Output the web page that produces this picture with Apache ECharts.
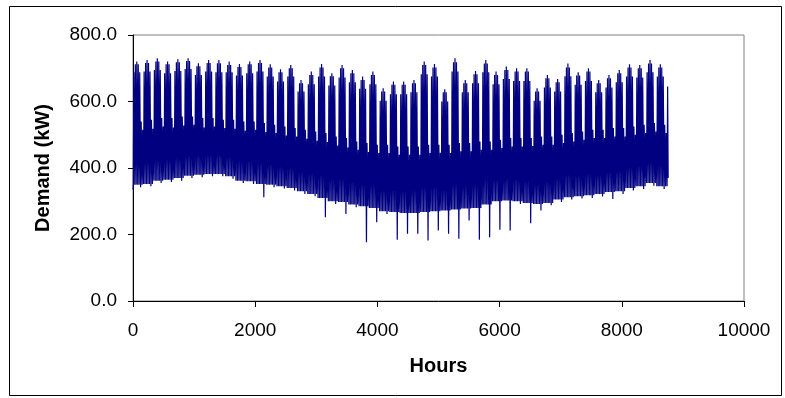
<!DOCTYPE html>
<html>
<head>
<meta charset="utf-8">
<script src="https://cdn.jsdelivr.net/npm/echarts@6/dist/echarts.min.js"></script>
<style>html,body{margin:0;padding:0;background:#fff}#c{width:785px;height:398px}</style>
</head>
<body>
<div id="c"></div>
<script>
// Weekly readings (52 weeks, week starts at hour 168*w), values in kW
// Mid-week (Wednesday) peak
const weekPeak = [720,725,730,720,727,730,715,725,725, 720,713,720,725,712,697,710,665,690, 713,685,710,695,675,690,640,660,660, 665,720,713,637,730,665,692,725, 690,705,700,700,640,680,668,714,688, 700,665,680,695,712,710,725,712];
// Tuesday / Thursday peaks
const weekNear = [712,716,720,712,718,722,706,716,715, 710,704,712,716,702,688,700,655,680, 702,676,700,685,665,680,630,650,650, 655,710,702,628,718,655,682,714, 680,695,690,690,630,670,658,702,678, 690,655,670,685,702,700,714,702];
// Monday / Friday peaks
const weekShoulder = [688,690,695,685,692,698,680,690,688, 688,678,685,690,675,660,675,630,652, 675,648,672,658,638,652,602,622,622, 628,682,675,600,690,628,655,688, 652,668,662,662,602,642,630,676,650, 662,628,642,658,675,672,688,675];
// Night lows
const weekBase = [350,352,362,365,370,377,380,382,382, 375,362,360,352,350,345,340,330,322, 310,300,298,290,285,280,270,268,265, 265,268,270,272,275,278,280,290, 300,302,300,295,292,295,305,312,315, 318,322,328,330,340,345,355,345];
// Saturday / Sunday highs
const weekendHigh = [540,545,550,550,555,555,550,550,545, 545,540,540,535,530,525,520,515,510, 505,495,490,480,475,470,470,465,465, 465,470,470,470,475,475,480,480, 485,490,490,490,495,495,500,505,510, 515,515,520,520,525,530,535,530];
const sundayHigh = [515,518,525,522,528,530,522,525,520, 518,512,515,508,505,498,495,488,482, 478,468,462,455,448,445,445,440,440, 440,445,446,445,450,450,455,455, 460,465,465,466,470,470,475,480,485, 490,490,495,495,500,505,510,505];
// Lowest night of the week (Saturday night)
const weekDip = [342,345,355,358,362,370,372,375,375, 368,355,352,312,342,338,332,322,315, 252,292,262,282,177,237,262,184,202, 202,182,212,202,187,242,184,192, 214,212,292,234,272,288,298,305,308, 310,314,307,322,332,337,347,337];
// Last partial day (hours 8736-8760)
const lastDay = [345, 645, 370];
const yTicks = [0, 200, 400, 600, 800];
const xTicks = [0, 2000, 4000, 6000, 8000, 10000];

const dayHighs = [weekShoulder, weekNear, weekPeak, weekNear, weekShoulder, weekendHigh, sundayHigh];
const pts = [[0, 335]];
for (let w = 0; w < weekPeak.length; w++) {
  for (let d = 0; d < 7; d++) {
    const t = w * 168 + d * 24;
    const low = d === 5 ? weekDip[w] : weekBase[w];
    pts.push([t + 5, low]);
    pts.push([t + 14, dayHighs[d][w]]);
  }
}
pts.push([8741, lastDay[0]], [8750, lastDay[1]], [8759, lastDay[2]]);

const font = "'Liberation Sans', Arial, sans-serif";
const chart = echarts.init(document.getElementById('c'), null, {renderer: 'canvas'});
chart.setOption({
  animation: false,
  backgroundColor: '#fff',
  graphic: [{
    type: 'rect', shape: {x: 9.5, y: 6.5, width: 772, height: 389},
    style: {fill: 'none', stroke: '#000', lineWidth: 1}, z: 0
  }],
  grid: {left: 133, top: 35, width: 611, height: 266, show: true, borderColor: '#808080', borderWidth: 1, backgroundColor: 'transparent'},
  xAxis: {
    type: 'value', min: xTicks[0], max: xTicks[xTicks.length - 1], interval: 2000,
    name: 'Hours', nameLocation: 'middle', nameGap: 55,
    nameTextStyle: {fontFamily: font, fontWeight: 'bold', fontSize: 20, color: '#000'},
    axisLine: {show: true, lineStyle: {color: '#000', width: 1}},
    axisTick: {show: true, inside: false, length: 6, lineStyle: {color: '#000'}},
    axisLabel: {fontFamily: font, fontSize: 19, color: '#000', margin: 20, formatter: v => String(v)},
    splitLine: {show: false}
  },
  yAxis: {
    type: 'value', min: yTicks[0], max: yTicks[yTicks.length - 1], interval: 200,
    name: 'Demand (kW)', nameLocation: 'middle', nameGap: 80,
    nameTextStyle: {fontFamily: font, fontWeight: 'bold', fontSize: 20, color: '#000'},
    axisLine: {show: true, lineStyle: {color: '#000', width: 1}},
    axisTick: {show: true, inside: false, length: 5, lineStyle: {color: '#000'}},
    axisLabel: {fontFamily: font, fontSize: 19, color: '#000', margin: 16, formatter: v => v.toFixed(1)},
    splitLine: {show: false}
  },
  series: [{
    type: 'line', data: pts, showSymbol: false, symbol: 'none',
    lineStyle: {color: '#000080', width: 1.2}, z: 3
  }]
});
</script>
</body>
</html>
